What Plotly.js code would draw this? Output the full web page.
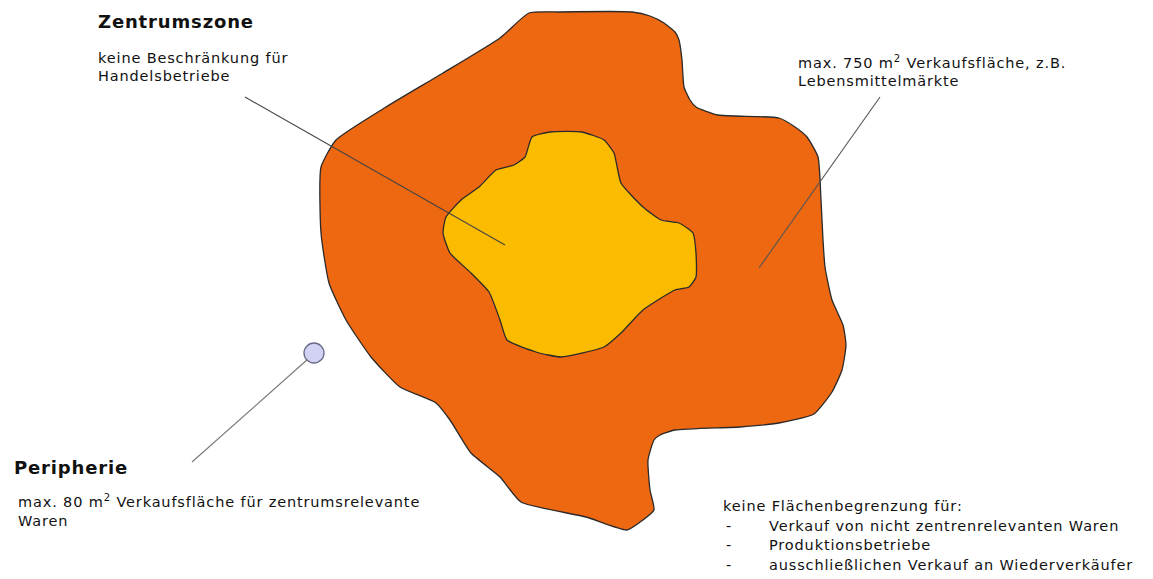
<!DOCTYPE html>
<html>
<head>
<meta charset="utf-8">
<script src="https://cdn.plot.ly/plotly-3.0.1.min.js"></script>
<style>
html,body{margin:0;padding:0;background:#fff;}
#chart{width:1153px;height:579px;}
text.annotation-text{letter-spacing:0.85px;}
</style>
</head>
<body>
<div id="chart"></div>
<script>
// Outer zone outline, in picture coordinates
const outerX = [529,560,632,650,664,675,679,682,684,690,696,718,779,795,807,818,821,823,825,832,843,846,842,832,814,779,740,675,660,654,648,650,654,643,627,586,521,500,471,450,436,400,371,346,329,321,321,336,386,443,500,529];
const outerY = [13,12,12,16,23,32,40,60,87,100,107,115,118,127,137,157,200,240,267,300,325,345,370,392,414,423,427,430,435,440,460,490,510,520,530,517,502,477,453,420,403,387,357,320,283,233,167,140,107,73,38,13];
// Inner zone (Zentrumszone) outline
const innerX = [532,550,582,604,614,621,643,661,679,693,696,696,689,675,643,621,604,561,536,507,500,489,471,450,443,446,461,479,496,514,525,532];
const innerY = [137,132,132,140,153,183,207,220,223,233,253,277,287,290,310,333,347,357,352,340,320,292,273,253,233,217,200,187,170,165,157,137];
// Leader lines [x0,x1], [y0,y1]
const leaderZentrumX = [245,505], leaderZentrumY = [97,245];
const leaderRandX = [880,759], leaderRandY = [97,268];
const leaderPeriX = [192,308], leaderPeriY = [462,359];
// Peripherie marker
const periPointX = [314], periPointY = [353];

// Texts
const headings = ["Zentrumszone", "Peripherie"];
const zentrumText = ["keine Beschränkung für", "Handelsbetriebe"];
const randText = ["max. 750 m<sup>2</sup> Verkaufsfläche, z.B.", "Lebensmittelmärkte"];
const periText = ["max. 80 m<sup>2</sup> Verkaufsfläche für zentrumsrelevante", "Waren"];
const freiHead = "keine Flächenbegrenzung für:";
const freiItems = ["Verkauf von nicht zentrenrelevanten Waren", "Produktionsbetriebe", "ausschließlichen Verkauf an Wiederverkäufer"];

const FONT = "DejaVu Sans, Verdana, sans-serif";
const traces = [
  {x: outerX, y: outerY, mode: "lines", fill: "toself", fillcolor: "#EE6711",
   line: {color: "#2a2a2a", width: 1.3, shape: "spline", smoothing: 0.5}, hoverinfo: "skip"},
  {x: innerX, y: innerY, mode: "lines", fill: "toself", fillcolor: "#FBBC00",
   line: {color: "#2a2a2a", width: 1.3, shape: "spline", smoothing: 0.5}, hoverinfo: "skip"},
  {x: leaderZentrumX, y: leaderZentrumY, mode: "lines", line: {color: "#444", width: 1.1}, hoverinfo: "skip"},
  {x: leaderRandX, y: leaderRandY, mode: "lines", line: {color: "#555", width: 1.1}, hoverinfo: "skip"},
  {x: leaderPeriX, y: leaderPeriY, mode: "lines", line: {color: "#777", width: 1.1}, hoverinfo: "skip"},
  {x: periPointX, y: periPointY, mode: "markers",
   marker: {size: 20, color: "#D2D2F2", line: {color: "#6A6A8A", width: 1.3}}, hoverinfo: "skip"}
];

function ann(text, x, y, size, bold) {
  return {text: bold ? "<b>" + text + "</b>" : text, x: x, y: y, xref: "x", yref: "y",
    xanchor: "left", yanchor: "middle", align: "left", showarrow: false,
    font: {family: FONT, size: size, color: "#111"}};
}
const annotations = [
  ann(headings[0], 96, 21, 18, true),
  ann(zentrumText[0], 96, 58, 14.5),
  ann(zentrumText[1], 96, 76, 14.5),
  ann(randText[0], 796, 62, 14.5),
  ann(randText[1], 796, 81, 14.5),
  ann(headings[1], 12, 467, 18, true),
  ann(periText[0], 16, 501, 14.5),
  ann(periText[1], 16, 521, 14.5),
  ann(freiHead, 721, 506, 14.5)
];
freiItems.forEach((t, i) => {
  annotations.push(ann("-", 724, 526 + i * 19.3, 14.5));
  annotations.push(ann(t, 767, 526 + i * 19.3, 14.5));
});

const layout = {
  width: 1153, height: 579,
  margin: {l: 0, r: 0, t: 0, b: 0},
  paper_bgcolor: "#fff", plot_bgcolor: "#fff",
  showlegend: false,
  xaxis: {range: [0, 1153], visible: false, fixedrange: true},
  yaxis: {range: [579, 0], visible: false, fixedrange: true},
  annotations: annotations
};
Plotly.newPlot("chart", traces, layout, {displayModeBar: false, staticPlot: true});
</script>
</body>
</html>
